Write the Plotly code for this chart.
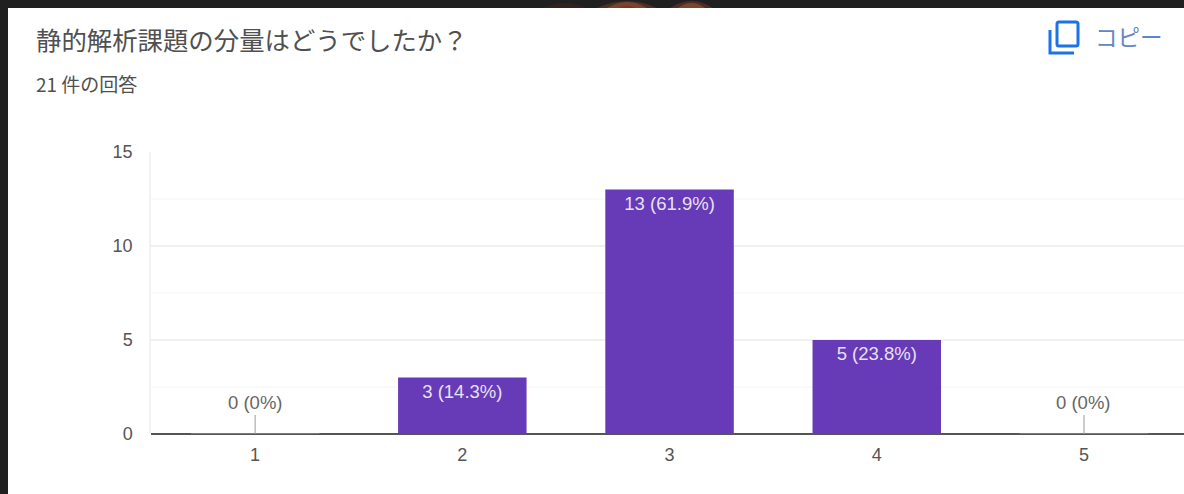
import plotly.graph_objects as go

W, H = 1184, 494
PLOT_L, PLOT_T, PLOT_B = 151, 152, 434

categories = [1, 2, 3, 4, 5]
counts = [0, 3, 13, 5, 0]
labels = ["0 (0%)", "3 (14.3%)", "13 (61.9%)", "5 (23.8%)", "0 (0%)"]
y_ticks = [0, 5, 10, 15]
minor_ticks = [2.5, 7.5, 12.5]

title_text = "静的解析課題の分量はどうでしたか？"
subtitle_text = "21 件の回答"
copy_text = "コピー"

CJK = "'Noto Sans CJK JP', 'Noto Sans', sans-serif"
SANS = "'Liberation Sans', Arial, sans-serif"
PURPLE = "#673ab7"
TICK = "#555555"
DARK = "#202020"


def px(x):
    return x / W


def py(y):
    return 1 - y / H


fig = go.Figure()

fig.add_trace(go.Bar(
    x=categories,
    y=counts,
    width=0.62,
    marker=dict(
        color=PURPLE,
        line=dict(
            width=[1 if v == 0 else 0 for v in counts],
            color="#8a8a8a",
        ),
    ),
    text=[t if v > 0 else "" for t, v in zip(labels, counts)],
    textposition="inside",
    insidetextanchor="end",
    textangle=0,
    constraintext="none",
    textfont=dict(family=SANS, size=18.5, color="#e6e1f3"),
    hoverinfo="skip",
    showlegend=False,
))

# Empty categories get their label on a short stem above the baseline
annotations = []
for c, v, t in zip(categories, counts, labels):
    if v == 0:
        annotations.append(dict(
            x=c, y=v, xref="x", yref="y", text=t,
            showarrow=True, arrowhead=0, arrowwidth=1, arrowcolor="#9a9a9a",
            ax=0, ay=-19, yanchor="bottom",
            font=dict(family=SANS, size=18.5, color="#666666"),
        ))


def page_text(x, y, text, size, color, family=CJK):
    return dict(
        x=px(x), y=py(y), xref="paper", yref="paper", text=text,
        showarrow=False, xanchor="left", yanchor="middle",
        font=dict(family=family, size=size, color=color),
    )


annotations += [
    page_text(33.5, 39, title_text, 25.4, "#505050"),
    page_text(34, 83.5, subtitle_text, 19, "#505050"),
    page_text(1093, 36, copy_text, 22.5, "#6485c4"),
]


def arch(x0, x1, top, color):
    """Rounded sliver of the backdrop showing above the card edge."""
    mid = (x0 + x1) / 2
    return dict(
        type="path", xref="paper", yref="paper", fillcolor=color, line_width=0, layer="below",
        path=(f"M {px(x0)} {py(8)} Q {px(mid)} {py(2 * top - 8)} {px(x1)} {py(8)} Z"),
    )


shapes = [
    # Dark surround behind the white card
    dict(type="rect", xref="paper", yref="paper", x0=0, x1=1, y0=py(8), y1=1,
         fillcolor=DARK, line_width=0, layer="below"),
    dict(type="rect", xref="paper", yref="paper", x0=0, x1=px(8), y0=0, y1=1,
         fillcolor=DARK, line_width=0, layer="below"),
    arch(543, 587, 3, "#33211e"),
    arch(597, 657, 1, "#4e2d25"),
    arch(607, 647, 2, "#77452e"),
    arch(618, 636, 6, "#8f2a20"),
    arch(670, 713, 1, "#4e2d25"),
    arch(678, 705, 3, "#774730"),
]

# Faint minor gridlines
for m in minor_ticks:
    shapes.append(dict(type="line", xref="paper", yref="y", x0=px(PLOT_L), x1=1,
                       y0=m, y1=m, line=dict(color="#f6f6f6", width=1), layer="below"))

# Copy icon
ICON = "#1a73e8"
shapes.append(dict(type="path", xref="paper", yref="paper",
                   path=(f"M {px(1059)} {py(22)} L {px(1076)} {py(22)} "
                         f"Q {px(1078)} {py(22)} {px(1078)} {py(24)} "
                         f"L {px(1078)} {py(44)} Q {px(1078)} {py(46)} {px(1076)} {py(46)} "
                         f"L {px(1059)} {py(46)} Q {px(1057)} {py(46)} {px(1057)} {py(44)} "
                         f"L {px(1057)} {py(24)} Q {px(1057)} {py(22)} {px(1059)} {py(22)} Z"),
                   line=dict(color=ICON, width=3)))
shapes.append(dict(type="path", xref="paper", yref="paper",
                   path=f"M {px(1050)} {py(30)} L {px(1050)} {py(53)} L {px(1074)} {py(53)}",
                   line=dict(color=ICON, width=3)))

fig.update_layout(
    template="none",
    width=W, height=H,
    margin=dict(l=0, r=0, t=0, b=0, pad=0),
    paper_bgcolor="white",
    plot_bgcolor="white",
    annotations=annotations,
    shapes=shapes,
    xaxis=dict(
        automargin=False,
        domain=[px(PLOT_L), 1],
        range=[0.4976, 5.4826],
        tickvals=categories,
        ticks="",
        showgrid=False,
        zeroline=False,
        showline=False,
        tickfont=dict(family=SANS, size=18, color=TICK),
        ticklabelstandoff=8,
    ),
    yaxis=dict(
        automargin=False,
        domain=[py(PLOT_B), py(PLOT_T)],
        range=[0, 15],
        tickvals=y_ticks,
        ticks="",
        showgrid=True,
        gridcolor="#f0f0f0",
        gridwidth=1.5,
        zeroline=True,
        zerolinecolor="#555555",
        zerolinewidth=2,
        showline=True,
        linecolor="#f2f2f2",
        linewidth=1.5,
        tickfont=dict(family=SANS, size=18, color=TICK),
        ticklabelstandoff=13,
    ),
)

fig.write_html("out.html", config=dict(displayModeBar=False))
